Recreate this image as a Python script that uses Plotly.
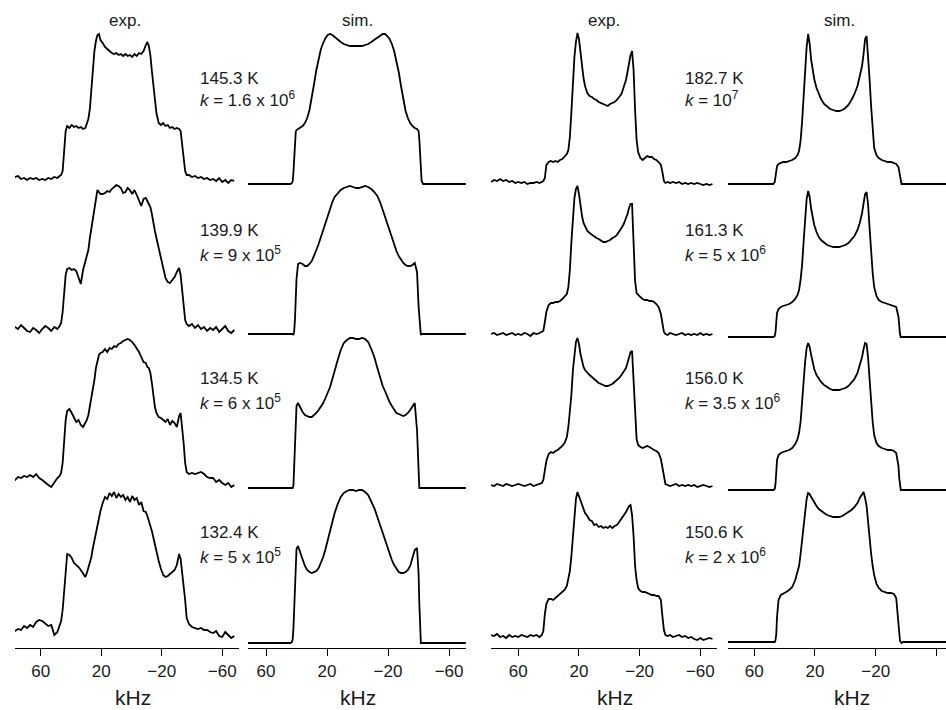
import plotly.graph_objects as go

# ---------------- data (kHz grids and intensities, arbitrary units) ----------------
KHZ_COL1 = [79, 77, 75, 73, 71, 69, 67, 65, 63, 61,
            59, 57, 55, 53, 51, 49, 47.5, 46.5, 45.5, 44.5,
            43.5, 42.5, 41, 39.5, 38, 36.5, 35, 33.5, 32, 30.5,
            29.5, 28.5, 27.5, 26.5, 25.5, 24.5, 23.5, 22.5, 21.5, 20.5,
            19, 17.5, 16, 14.5, 13, 11.5, 10, 8.5, 7, 5.5,
            4, 2.5, 1, -0.5, -2, -3.5, -5, -6.5, -8, -9.5,
            -10.5, -11.5, -12.5, -13.5, -14.5, -15.5, -16.5, -18, -19.5, -21,
            -22.5, -24, -25.5, -27, -28.5, -30, -31.5, -32.5, -33.5, -34.5,
            -35.5, -36.5, -38, -40, -42, -44, -46, -48, -50, -52,
            -54, -56, -58, -60, -62, -64, -66, -68]

EXP_145_3K = [4, 2, 3, 0, 1, -1, 1, 0, 1, -1,
              0, -1, 1, 0, 2, 1, 3, 4, 8, 30,
              48, 53, 51, 54, 52, 53, 51, 52, 50, 51,
              55, 60, 70, 92, 110, 128, 138, 144, 145, 139,
              136, 132, 130, 128, 126, 125, 126, 124, 125, 123,
              125, 123, 124, 122, 125, 123, 126, 125, 128, 134,
              137, 133, 124, 108, 93, 78, 66, 56, 54, 56,
              53, 54, 51, 52, 50, 51, 50, 48, 35, 20,
              8, 4, 4, 2, 3, 1, 2, 0, 1, -1,
              0, -2, 1, -3, -1, -4, -1, -2]

EXP_139_9K = [-1, 3, 1, 5, 2, -1, -2, 2, 0, -3,
              1, 4, 2, -1, 3, 1, 4, 7, 18, 38,
              55, 61, 62, 60, 61, 59, 52, 46, 60, 68,
              74, 80, 92, 102, 113, 124, 133, 140, 138, 136,
              136, 137, 139, 138, 141, 143, 145, 144, 142, 137,
              138, 142, 140, 136, 140, 135, 130, 124, 131, 132,
              129, 126, 123, 116, 106, 99, 92, 82, 72, 60,
              52, 48, 47, 50, 53, 58, 62, 55, 38, 22,
              10, 6, 4, 6, 2, 5, 1, 3, -1, 2,
              0, 3, -2, 1, 4, -1, -3, 0]

EXP_134_5K = [4, 2, 5, 4, 6, 5, 7, 5, 8, 4,
              2, -1, -3, -5, 0, 4, 6, 9, 19, 39,
              62, 71, 73, 69, 64, 60, 62, 57, 55, 59,
              62, 67, 75, 84, 92, 102, 114, 122, 127, 129,
              130, 133, 130, 134, 133, 136, 135, 138, 139, 141,
              142, 143, 142, 140, 137, 134, 130, 125, 120, 119,
              115, 114, 109, 99, 85, 75, 69, 65, 64, 62,
              60, 63, 57, 61, 59, 55, 66, 69, 55, 39,
              19, 10, 8, 9, 8, 9, 10, 8, 5, 4,
              4, 0, 2, -1, -3, -1, -5, -3]

EXP_132_4K = [5, 2, 4, 3, 7, 5, 8, 6, 11, 13,
              12, 9, 7, 8, -2, 1, 8, 12, 23, 45,
              65, 79, 78, 75, 70, 68, 66, 63, 59, 56,
              60, 65, 70, 76, 85, 93, 102, 110, 117, 122,
              130, 136, 134, 140, 137, 141, 135, 139, 136, 138,
              133, 136, 131, 137, 133, 135, 128, 131, 122, 121,
              117, 113, 107, 102, 95, 88, 82, 72, 64, 58,
              56, 57, 59, 61, 63, 68, 79, 74, 62, 45,
              33, 15, 9, 6, 5, 4, 5, 3, 3, 1,
              0, 2, -3, -4, 1, -2, -5, -3]

KHZ_COL2 = [73, 70, 66, 62, 58, 54, 50, 46, 44, 43,
            42.5, 42, 41.5, 41, 40.5, 40, 39, 37.5, 36, 34.5,
            33, 31.5, 30, 28.5, 27, 25.5, 24, 22.5, 21, 19.5,
            18, 16.5, 15, 13, 11, 9, 7, 5, 3, 1,
            -1, -3, -5, -7, -9, -11, -13, -15, -16.5, -18,
            -19.5, -21, -22.5, -24, -25.5, -27, -28.5, -30, -31.5, -33,
            -34.5, -36, -37.5, -39, -40, -40.5, -41, -41.5, -42, -43,
            -44, -46, -50, -54, -58, -62, -66, -71]

SIM_145_3K = [0, 0, 0, 0, 0, 0, 0, 0, 0, 1,
              3, 12, 30, 45, 52, 54, 55, 56, 58, 61,
              66, 74, 86, 100, 114, 126, 135, 141, 146, 149,
              150, 149, 147, 144, 142, 140, 139, 138, 138, 138,
              138, 138, 139, 140, 142, 144, 146, 148, 150, 150,
              148, 145, 140, 133, 124, 112, 98, 85, 73, 66,
              61, 58, 56, 55, 53, 45, 25, 10, 3, 0,
              0, 0, 0, 0, 0, 0, 0, 0]

SIM_139_9K = [0, 0, 0, 0, 0, 0, 0, 0, 0, 0,
              0, -1, 3, 15, 35, 55, 70, 71, 70, 68,
              68, 70, 73, 78, 84, 90, 97, 104, 112, 120,
              127, 132, 137, 141, 144, 146, 147, 148, 147, 146,
              146, 147, 148, 147, 145, 142, 138, 131, 124, 118,
              110, 103, 96, 89, 83, 78, 74, 71, 69, 68,
              68, 69, 71, 62, 28, 14, 2, -1, 0, 0,
              0, 0, 0, 0, 0, 0, 0, 0]

SIM_134_5K = [0, 0, 0, 0, 0, 0, 0, 0, 0, 0,
              0, 3, 25, 50, 70, 82, 85, 80, 76, 73,
              72, 71, 71, 73, 75, 78, 81, 85, 90, 95,
              101, 109, 118, 128, 138, 145, 148, 150, 150, 149,
              149, 150, 149, 146, 139, 131, 120, 109, 102, 97,
              91, 86, 82, 78, 75, 74, 73, 72, 73, 75,
              78, 81, 85, 58, 10, 0, 0, 0, 0, 0,
              0, 0, 0, 0, 0, 0, 0, 0]

SIM_132_4K = [0, 0, 0, 0, 0, 0, 0, 0, 0, 1,
              4, 15, 40, 65, 85, 94, 97, 90, 82, 77,
              73, 71, 70, 71, 72, 75, 80, 86, 94, 103,
              113, 122, 130, 139, 146, 150, 152, 153, 153, 152,
              153, 153, 151, 148, 142, 135, 126, 117, 110, 103,
              96, 89, 83, 78, 74, 71, 70, 70, 71, 73,
              77, 84, 93, 95, 70, 40, 8, 0, 0, 0,
              0, 0, 0, 0, 0, 0, 0, 0]

KHZ_COL3 = [78, 76, 74, 72, 70, 68, 66, 64, 62, 60,
            58, 56, 54, 52, 50, 48, 46, 44.5, 43.5, 42.5,
            41.5, 40, 38.5, 37, 35.5, 34, 32.5, 31, 29.5, 28,
            27, 26, 25, 24, 23, 22, 21, 20, 19, 18,
            17, 16, 14.5, 13, 11.5, 10, 8.5, 7, 5.5, 4,
            2.5, 1, -0.5, -2, -3.5, -5, -6.5, -8, -9.5, -11,
            -12, -13, -14, -15, -16, -17, -18, -19, -20.5, -22,
            -23.5, -25, -26.5, -28, -29.5, -31, -32.5, -34, -35, -36,
            -37, -38.5, -40, -42, -44, -46, -48, -50, -52, -54,
            -56, -58, -60, -62, -64, -66, -68]

EXP_182_7K = [0, 2, 1, 3, 1, 2, 0, 1, -1, 0,
              -1, 0, -2, -1, -1, 0, -1, 0, 1, 4,
              17, 20, 21, 20, 21, 20, 22, 23, 25, 28,
              32, 45, 70, 101, 125, 140, 149, 143, 128, 116,
              104, 96, 89, 86, 85, 83, 82, 80, 79, 78,
              77, 76, 78, 79, 80, 82, 85, 88, 95, 102,
              110, 119, 127, 131, 112, 72, 42, 30, 24, 22,
              24, 26, 25, 25, 23, 22, 20, 17, 10, 1,
              -1, 0, -1, 0, -1, 0, -2, -1, -2, -1,
              -2, -1, -2, -3, -2, -3, -2]

EXP_161_3K = [0, 1, -1, 0, 1, -1, 0, 1, -1, 0,
              -1, 1, 0, -2, 1, 0, 1, 2, 3, 12,
              22, 29, 31, 31, 32, 32, 33, 35, 37, 40,
              47, 64, 92, 115, 136, 145, 148, 140, 128, 118,
              111, 107, 103, 101, 99, 98, 96, 95, 93, 92,
              92, 93, 94, 96, 97, 99, 102, 106, 110, 115,
              120, 126, 130, 130, 92, 53, 41, 39, 37, 35,
              34, 34, 33, 33, 32, 30, 27, 20, 12, 2,
              0, -1, 1, 0, -1, 0, 1, -1, 0, -1,
              0, -1, 1, -1, 0, -1, 0]

EXP_156_0K = [0, -1, 1, 0, -1, 1, 0, -1, 0, 1,
              0, -1, 0, 1, -1, 0, 1, 2, 5, 14,
              24, 31, 33, 32, 34, 35, 37, 39, 42, 48,
              58, 72, 90, 115, 133, 143, 147, 141, 131, 124,
              118, 115, 112, 110, 108, 106, 104, 102, 101, 100,
              99, 99, 100, 101, 103, 105, 107, 110, 113, 117,
              122, 128, 133, 134, 104, 62, 46, 40, 38, 37,
              38, 39, 38, 36, 35, 34, 32, 26, 17, 6,
              1, 0, -1, 0, 1, -1, 0, -1, 0, -1,
              0, -2, -1, 0, -1, -2, -1]

EXP_150_6K = [1, 0, 2, -1, 0, -2, 1, -1, 0, -1,
              1, 0, -1, 1, 0, 1, -1, 1, 5, 22,
              32, 37, 37, 36, 38, 40, 42, 44, 46, 50,
              56, 65, 80, 100, 122, 137, 144, 140, 135, 130,
              127, 123, 120, 116, 115, 111, 112, 109, 110, 108,
              109, 108, 110, 108, 110, 111, 114, 117, 121, 124,
              127, 130, 131, 121, 100, 70, 56, 48, 45, 44,
              44, 43, 42, 41, 41, 40, 40, 36, 20, 6,
              1, 0, 1, -1, 0, 1, -1, 0, -2, -1,
              -3, -4, -2, -4, -3, -2, -3]

KHZ_COL4 = [79, 76, 72, 68, 64, 60, 56, 52, 49, 47.5,
            46.5, 46, 45.5, 45, 44, 42.5, 41, 39, 37, 35,
            33, 31.5, 30.5, 29.5, 28.5, 27.5, 26.5, 25.5, 24.5, 23.5,
            22.5, 21.5, 20.5, 19, 17.5, 16, 14, 12, 10, 8,
            6, 4, 2, 0, -2, -4, -6, -8, -9.5, -11,
            -12, -13, -14, -15, -16, -17, -18, -19, -20.5, -22,
            -24, -26, -28, -30, -32, -33.5, -35, -35.5, -36, -36.5,
            -37, -38, -40, -44, -48, -52, -56, -60, -64, -67]

SIM_182_7K = [0, 0, 0, 0, 0, 0, 0, 0, 0, 0,
              2, 8, 14, 18, 20, 21, 22, 22, 23, 24,
              26, 29, 33, 43, 62, 88, 112, 137, 150, 140,
              124, 113, 105, 96, 90, 85, 80, 77, 75, 74,
              73, 73, 74, 76, 79, 84, 90, 98, 107, 118,
              130, 145, 148, 130, 104, 77, 52, 36, 29, 26,
              24, 23, 22, 22, 21, 20, 17, 12, 6, 1,
              0, 0, 0, 0, 0, 0, 0, 0, 0, 0]

SIM_161_3K = [0, 0, 0, 0, 0, 0, 0, 0, 0, 0,
              1, 5, 15, 24, 28, 30, 31, 32, 33, 35,
              38, 42, 47, 57, 72, 95, 118, 138, 146, 140,
              128, 119, 112, 105, 100, 97, 94, 92, 91, 90,
              90, 90, 91, 92, 94, 97, 101, 107, 114, 124,
              134, 143, 145, 132, 108, 84, 64, 50, 41, 37,
              35, 34, 33, 32, 31, 30, 20, 10, 3, 0,
              0, 0, 0, 0, 0, 0, 0, 0, 0, 0]

SIM_156_0K = [0, 0, 0, 0, 0, 0, 0, 0, 0, 0,
              1, 6, 18, 30, 35, 37, 38, 39, 40, 42,
              46, 51, 57, 68, 85, 108, 128, 142, 147, 143,
              135, 127, 121, 115, 111, 108, 105, 103, 101, 100,
              100, 100, 101, 102, 104, 107, 111, 117, 124, 133,
              141, 147, 146, 132, 110, 87, 68, 55, 47, 44,
              42, 41, 40, 40, 39, 37, 24, 12, 3, 0,
              0, 0, 0, 0, 0, 0, 0, 0, 0, 0]

SIM_150_6K = [0, 0, 0, 0, 0, 0, 0, 0, 0, 0,
              0, 2, 8, 25, 42, 47, 48, 50, 52, 55,
              62, 69, 76, 88, 103, 117, 133, 143, 149, 148,
              145, 142, 139, 136, 133, 131, 129, 127, 126, 125,
              125, 125, 126, 128, 130, 132, 135, 139, 144, 148,
              150, 144, 136, 120, 102, 88, 76, 67, 58, 54,
              51, 50, 49, 49, 48, 44, 14, 5, 1, 0,
              -1, 0, 0, 0, 0, 0, 0, 0, 0, 0]

TICK_VALS = [60, 20, -20, -60]
HEADERS = ["exp.", "sim.", "exp.", "sim."]
TEMPS_LOW = ["145.3 K", "139.9 K", "134.5 K", "132.4 K"]
RATES_LOW = ["1.6 x 10<sup>6</sup>", "9 x 10<sup>5</sup>", "6 x 10<sup>5</sup>", "5 x 10<sup>5</sup>"]
TEMPS_HIGH = ["182.7 K", "161.3 K", "156.0 K", "150.6 K"]
RATES_HIGH = ["10<sup>7</sup>", "5 x 10<sup>6</sup>", "3.5 x 10<sup>6</sup>", "2 x 10<sup>6</sup>"]

# ---------------- layout (pixel geometry) ----------------
W, H = 946, 710
PLOT_H = 648  # plot area height (axis line position)
FONT = "Liberation Sans, Arial, Helvetica, sans-serif"
TXT = "#1a1a1a"

panels = [
    dict(x=KHZ_COL1, curves=[EXP_145_3K, EXP_139_9K, EXP_134_5K, EXP_132_4K],
         base=[179, 330, 482, 633], px=(15, 239), rng=[77.0, -71.1], head_x=125, khz_x=133),
    dict(x=KHZ_COL2, curves=[SIM_145_3K, SIM_139_9K, SIM_134_5K, SIM_132_4K],
         base=[184, 334, 488, 643], px=(248, 466), rng=[71.8, -71.1], head_x=357, khz_x=358),
    dict(x=KHZ_COL3, curves=[EXP_182_7K, EXP_161_3K, EXP_156_0K, EXP_150_6K],
         base=[182, 334, 485, 636], px=(491, 717), rng=[78.0, -71.0], head_x=604, khz_x=615),
    dict(x=KHZ_COL4, curves=[SIM_182_7K, SIM_161_3K, SIM_156_0K, SIM_150_6K],
         base=[184, 337, 490, 642], px=(728, 946), rng=[77.3, -66.3], head_x=839, khz_x=852),
]

fig = go.Figure()
layout = dict(
    width=W, height=H,
    margin=dict(l=0, r=0, t=0, b=H - PLOT_H, pad=0),
    paper_bgcolor="white", plot_bgcolor="white",
    showlegend=False,
    font=dict(family=FONT, color=TXT, size=17),
)

annotations = []
for i, p in enumerate(panels):
    n = i + 1
    xs = "" if n == 1 else str(n)
    if any(len(c) != len(p["x"]) for c in p["curves"]):
        raise ValueError(f"panel {n}: lengths {len(p['x'])} vs {[len(c) for c in p['curves']]}")
    for ys, b in zip(p["curves"], p["base"]):
        fig.add_trace(go.Scatter(
            x=p["x"], y=[v - b for v in ys],
            xaxis="x" + xs, yaxis="y" + xs, mode="lines",
            line=dict(color="black", width=1.8), hoverinfo="skip", showlegend=False))
    layout["xaxis" + xs] = dict(
        domain=[p["px"][0] / W, p["px"][1] / W], range=p["rng"], anchor="y" + xs,
        tickvals=TICK_VALS, ticks="outside", ticklen=7, tickwidth=1.3, tickcolor="black",
        showline=True, linecolor="black", linewidth=1.4,
        showgrid=False, zeroline=False, fixedrange=True,
        tickfont=dict(family=FONT, size=17, color=TXT))
    layout["yaxis" + xs] = dict(
        domain=[0, 1], range=[-PLOT_H, 0], anchor="x" + xs, visible=False, fixedrange=True)
    annotations.append(dict(text=HEADERS[i], x=p["head_x"] / W, y=1 - 20 / PLOT_H,
                            xref="paper", yref="paper", showarrow=False,
                            xanchor="center", yanchor="middle",
                            font=dict(family=FONT, size=17, color=TXT)))
    annotations.append(dict(text="kHz", x=p["khz_x"] / W, y=1 - 698 / PLOT_H,
                            xref="paper", yref="paper", showarrow=False,
                            xanchor="center", yanchor="middle",
                            font=dict(family=FONT, size=21, color=TXT)))

row_y = [(79, 99), (231, 254), (378, 402), (532, 556)]
for temps, rates, lx in [(TEMPS_LOW, RATES_LOW, 198), (TEMPS_HIGH, RATES_HIGH, 683)]:
    for (ty, ky), t, r in zip(row_y, temps, rates):
        annotations.append(dict(text=t, x=lx / W, y=1 - ty / PLOT_H, xref="paper", yref="paper",
                                showarrow=False, xanchor="left", yanchor="middle",
                                font=dict(family=FONT, size=17, color=TXT)))
        annotations.append(dict(text="<i>k</i> = " + r, x=lx / W, y=1 - ky / PLOT_H,
                                xref="paper", yref="paper",
                                showarrow=False, xanchor="left", yanchor="middle",
                                font=dict(family=FONT, size=17, color=TXT)))

layout["annotations"] = annotations
fig.update_layout(**layout)
fig.write_html("out.html", config={"displayModeBar": False})
